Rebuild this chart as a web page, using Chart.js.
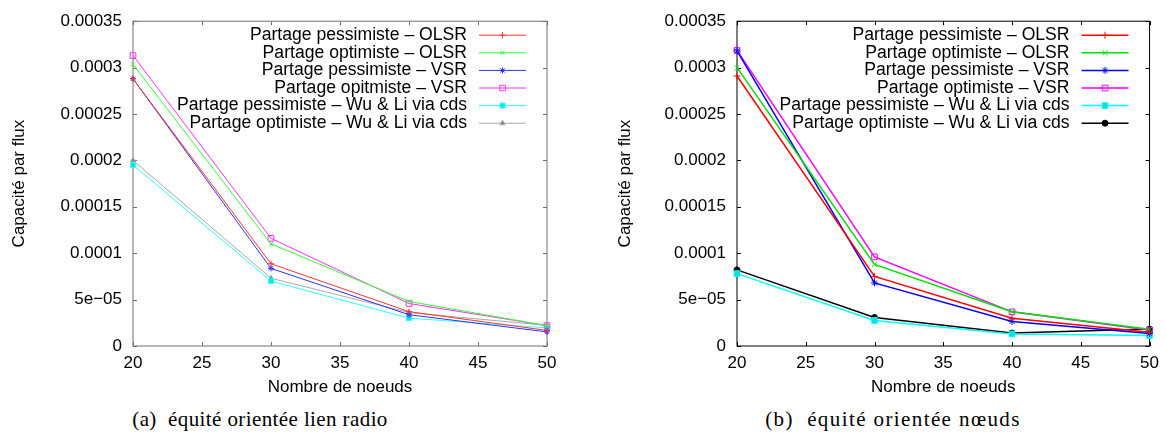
<!DOCTYPE html>
<html>
<head>
<meta charset="utf-8">
<script src="https://cdn.jsdelivr.net/npm/chart.js@4"></script>
<style>
  body { margin: 0; background: #fff; width: 1166px; height: 441px; overflow: hidden; position: relative; }
  .box { position: absolute; top: 0; width: 583px; height: 400px; }
  .caption { position: absolute; top: 407px; font-family: "Liberation Serif", serif; font-size: 21px; letter-spacing: 0.4px; color: #000; white-space: nowrap; transform: translateX(-50%); }
</style>
</head>
<body>
<div class="box" style="left:0"><canvas id="chartA"></canvas></div>
<div class="box" style="left:583px"><canvas id="chartB"></canvas></div>
<div class="caption" style="left:260px">(a)&nbsp; équité orientée lien radio</div>
<div class="caption" style="left:893px; letter-spacing:1.4px">(b)&nbsp; équité orientée nœuds</div>
<script>
// nombre de noeuds
const nodes = [20, 30, 40, 50];
const xTicks = [20, 25, 30, 35, 40, 45, 50];
const yTicks = [0, 0.00005, 0.0001, 0.00015, 0.0002, 0.00025, 0.0003, 0.00035];
const yTickLabels = ['0', '5e\u221205', '0.0001', '0.00015', '0.0002', '0.00025', '0.0003', '0.00035'];

const seriesLabels = [
  'Partage pessimiste \u2013 OLSR',
  'Partage optimiste \u2013 OLSR',
  'Partage pessimiste \u2013 VSR',
  'Partage opitmiste \u2013 VSR',
  'Partage pessimiste \u2013 Wu & Li via cds',
  'Partage optimiste \u2013 Wu & Li via cds'
];
const seriesLabelsB = [
  'Partage pessimiste \u2013 OLSR',
  'Partage optimiste \u2013 OLSR',
  'Partage pessimiste \u2013 VSR',
  'Partage optimiste \u2013 VSR',
  'Partage pessimiste \u2013 Wu & Li via cds',
  'Partage optimiste \u2013 Wu & Li via cds'
];

// (a) equite orientee lien radio
const pessOlsrA = [0.000288, 0.0000886, 0.000037, 0.0000168];
const optOlsrA = [0.0003035, 0.00011, 0.000048, 0.000022];
const pessVsrA = [0.000288, 0.0000836, 0.0000337, 0.0000152];
const optVsrA = [0.000313, 0.000116, 0.0000458, 0.000022];
const pessWuA = [0.000195, 0.00007, 0.00003, 0.0000195];
const optWuA = [0.0002, 0.000073, 0.000036, 0.0000222];

// (b) equite orientee noeuds
const pessOlsrB = [0.000291, 0.000075, 0.00003, 0.0000148];
const optOlsrB = [0.0003, 0.000088, 0.000037, 0.000018];
const pessVsrB = [0.000318, 0.000068, 0.0000265, 0.0000136];
const optVsrB = [0.0003185, 0.000096, 0.0000368, 0.0000172];
const pessWuB = [0.000078, 0.0000275, 0.000013, 0.0000112];
const optWuB = [0.000082, 0.0000307, 0.000014, 0.0000182];

const FONT = '"Liberation Sans", Arial, sans-serif';

function points(values) {
  return values.map((v, i) => ({x: nodes[i], y: v}));
}

function makeDataset(label, values, color, style, fill, width, radius) {
  return {
    label: label,
    data: points(values),
    borderColor: color,
    backgroundColor: fill,
    pointBackgroundColor: fill,
    pointBorderColor: color,
    pointStyle: style,
    pointRadius: radius,
    pointBorderWidth: 1,
    borderWidth: width,
    tension: 0,
    clip: false
  };
}

// boite + graduations vers l'interieur, facon gnuplot
const framePlugin = {
  id: 'frame',
  beforeDatasetsDraw(chart, args, opts) {
    const {ctx, chartArea: a, scales} = chart;
    ctx.save();
    ctx.strokeStyle = opts.color;
    ctx.lineWidth = opts.width;
    ctx.strokeRect(a.left, a.top, a.width, a.height);
    ctx.beginPath();
    scales.x.ticks.forEach(t => {
      const px = Math.round(scales.x.getPixelForValue(t.value)) + 0.5;
      ctx.moveTo(px, a.bottom); ctx.lineTo(px, a.bottom - 4);
      ctx.moveTo(px, a.top); ctx.lineTo(px, a.top + 4);
    });
    scales.y.ticks.forEach(t => {
      const py = Math.round(scales.y.getPixelForValue(t.value)) + 0.5;
      ctx.moveTo(a.left, py); ctx.lineTo(a.left + 4, py);
      ctx.moveTo(a.right, py); ctx.lineTo(a.right - 4, py);
    });
    ctx.stroke();
    ctx.restore();
  }
};

// legende texte a droite, echantillon a droite du texte
const keyPlugin = {
  id: 'key',
  afterDraw(chart) {
    const {ctx, chartArea: a} = chart;
    ctx.save();
    ctx.font = '17.6px ' + FONT;
    ctx.textAlign = 'right';
    ctx.textBaseline = 'middle';
    chart.data.datasets.forEach((ds, i) => {
      const y = a.top + 14 + i * 17.6;
      ctx.fillStyle = '#000';
      ctx.fillText(ds.label, a.right - 80, y);
      ctx.strokeStyle = ds.borderColor;
      ctx.lineWidth = ds.borderWidth;
      ctx.beginPath();
      ctx.moveTo(a.right - 68, y);
      ctx.lineTo(a.right - 21, y);
      ctx.stroke();
      ctx.fillStyle = ds.pointBackgroundColor;
      ctx.lineWidth = 1;
      if (Chart.helpers && Chart.helpers.drawPoint) {
        Chart.helpers.drawPoint(ctx, {pointStyle: ds.pointStyle, radius: ds.pointRadius, borderWidth: 1, rotation: 0}, a.right - 44.5, y);
      }
    });
    ctx.restore();
  }
};

function makeChart(id, datasets, padLeft, padRight, yWidth, frameColor) {
  return new Chart(document.getElementById(id), {
    type: 'line',
    data: {datasets: datasets},
    plugins: [framePlugin, keyPlugin],
    options: {
      responsive: true,
      maintainAspectRatio: false,
      animation: false,
      layout: {padding: {top: 17, left: padLeft, right: padRight, bottom: 0}},
      plugins: {
        legend: {display: false},
        tooltip: {enabled: false},
        frame: {color: frameColor, width: 1}
      },
      scales: {
        x: {
          type: 'linear',
          min: 20,
          max: 50,
          afterBuildTicks: s => { s.ticks = xTicks.map(v => ({value: v})); },
          afterFit: s => { s.height = 54; },
          grid: {display: false, drawTicks: false},
          border: {display: false},
          ticks: {color: '#000', font: {family: FONT, size: 17}, padding: 7, maxRotation: 0},
          title: {display: true, text: 'Nombre de noeuds', color: '#000', font: {family: FONT, size: 17}, padding: {top: 0, bottom: 2}}
        },
        y: {
          min: 0,
          max: 0.00035,
          afterBuildTicks: s => { s.ticks = yTicks.map(v => ({value: v})); },
          afterFit: s => { s.width = yWidth; },
          grid: {display: false, drawTicks: false},
          border: {display: false},
          ticks: {color: '#000', font: {family: FONT, size: 17}, padding: 11, callback: (v, i) => yTickLabels[i]},
          title: {display: true, text: 'Capacité par flux', color: '#000', font: {family: FONT, size: 17}, padding: {top: 0, bottom: 0}}
        }
      }
    }
  });
}

const chartA = makeChart('chartA', [
  makeDataset(seriesLabels[0], pessOlsrA, '#ff3030', 'cross', '#ff3030', 1, 3),
  makeDataset(seriesLabels[1], optOlsrA, '#30ff30', 'crossRot', '#30ff30', 1, 3),
  makeDataset(seriesLabels[2], pessVsrA, '#3030ff', 'star', '#3030ff', 1, 3),
  makeDataset(seriesLabels[3], optVsrA, '#ff30ff', 'rect', 'rgba(0,0,0,0)', 1, 4),
  makeDataset(seriesLabels[4], pessWuA, '#30ffff', 'rect', '#00e8e8', 1, 3.5),
  makeDataset(seriesLabels[5], optWuA, '#a8a8a8', 'triangle', '#808080', 1, 3)
], 9, 36, 124, '#707070');

const chartB = makeChart('chartB', [
  makeDataset(seriesLabelsB[0], pessOlsrB, '#ff0000', 'cross', '#ff0000', 1.5, 3.5),
  makeDataset(seriesLabelsB[1], optOlsrB, '#00e000', 'crossRot', '#00e000', 1.5, 3.5),
  makeDataset(seriesLabelsB[2], pessVsrB, '#0000ff', 'star', '#0000ff', 1.5, 3.5),
  makeDataset(seriesLabelsB[3], optVsrB, '#ff00ff', 'rect', 'rgba(0,0,0,0)', 1.5, 4),
  makeDataset(seriesLabelsB[4], pessWuB, '#00ffff', 'rect', '#00e0e0', 1.5, 4),
  makeDataset(seriesLabelsB[5], optWuB, '#000000', 'circle', '#000000', 1.5, 3)
], 32, 16, 122, '#000000');
</script>
</body>
</html>
